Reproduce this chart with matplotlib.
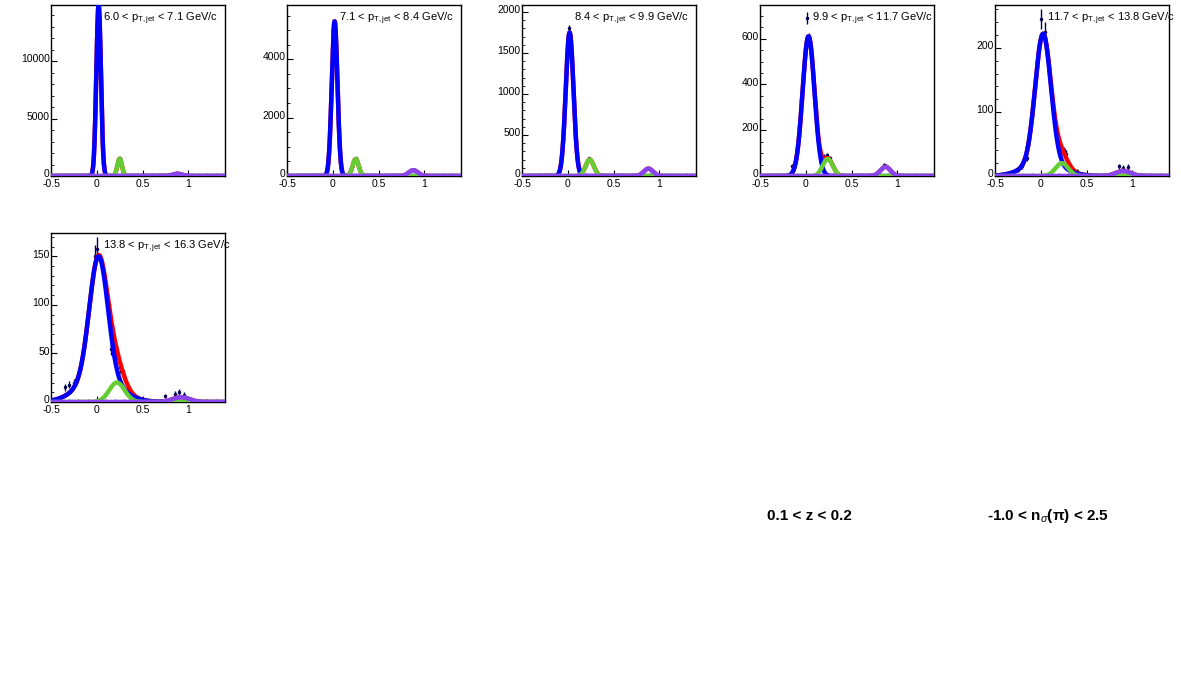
import numpy as np
import matplotlib
matplotlib.use("Agg")
import matplotlib.pyplot as plt
import matplotlib.transforms as mtransforms

plt.rcParams['font.family'] = ['Liberation Sans', 'DejaVu Sans']
plt.rcParams['mathtext.fontset'] = 'custom'
plt.rcParams['mathtext.rm'] = 'Liberation Sans'
plt.rcParams['mathtext.it'] = 'Liberation Sans:italic'

# pT,jet bins
pt_labels = ["6.0 < $\\mathrm{p_{T,jet}}$ < 7.1 GeV/c",
             "7.1 < $\\mathrm{p_{T,jet}}$ < 8.4 GeV/c",
             "8.4 < $\\mathrm{p_{T,jet}}$ < 9.9 GeV/c",
             "9.9 < $\\mathrm{p_{T,jet}}$ < 11.7 GeV/c",
             "11.7 < $\\mathrm{p_{T,jet}}$ < 13.8 GeV/c",
             "13.8 < $\\mathrm{p_{T,jet}}$ < 16.3 GeV/c"]
y_max = [14870, 5860, 2085, 747, 267, 174]
y_ticks = [[0, 5000, 10000], [0, 2000, 4000], [0, 500, 1000, 1500, 2000],
           [0, 200, 400, 600], [0, 100, 200], [0, 50, 100, 150]]

# fit parameters: (amplitude, mean, sigma)
pion = [(14900, 0.02, 0.025), (5300, 0.02, 0.031), (1750, 0.02, 0.042),
        (610, 0.03, 0.065), (200, 0.025, 0.085), (125, 0.02, 0.10)]
pion_tail = [(0, 0.02, 0.2), (0, 0.02, 0.2), (0, 0.02, 0.2),
             (0, 0.03, 0.2), (22, 0.025, 0.2), (25, 0.02, 0.22)]
kaon = [(1500, 0.25, 0.025), (580, 0.25, 0.033), (200, 0.24, 0.045),
        (75, 0.24, 0.055), (20, 0.23, 0.07), (20, 0.22, 0.085)]
proton = [(200, 0.88, 0.05), (200, 0.88, 0.05), (90, 0.88, 0.05),
          (40, 0.87, 0.055), (8, 0.9, 0.08), (5, 0.92, 0.09)]

# visible data points: x, y, yerr
data_x = [[0.01, 0.25, 0.88],
          [0.01, 0.25, 0.88],
          [0.01, 0.23, 0.88],
          [-0.15, -0.1, -0.05, 0.01, 0.03, 0.2, 0.23, 0.26, 0.85, 0.88],
          [-0.25, -0.2, -0.15, 0.0, 0.05, 0.22, 0.25, 0.28, 0.4, 0.85, 0.9, 0.95],
          [-0.35, -0.3, -0.25, -0.02, 0.0, 0.15, 0.2, 0.25, 0.3, 0.75, 0.85, 0.9, 0.95]]
data_y = [[14800, 1550, 220],
          [5300, 600, 210],
          [1800, 220, 95],
          [45, 110, 330, 690, 600, 85, 90, 80, 48, 45],
          [10, 15, 28, 245, 225, 45, 40, 35, 8, 15, 13, 14],
          [15, 18, 20, 150, 158, 55, 45, 36, 28, 6, 8, 10, 7]]
data_err = [[120, 40, 15],
            [70, 25, 15],
            [40, 15, 10],
            [7, 10, 18, 25, 24, 9, 9, 9, 7, 7],
            [3, 4, 5, 15, 15, 6, 6, 6, 3, 4, 4, 4],
            [4, 4, 4, 12, 12, 7, 6, 6, 5, 2, 3, 3, 3]]

lefts = [51, 287, 522, 760, 995, 51]
tops = [5, 5, 5, 5, 5, 233]
heights = [171, 171, 171, 171, 171, 169]
W, H = 1181, 677


def gauss(x, p):
    a, m, s = p
    return a * np.exp(-0.5 * ((x - m) / s) ** 2)


fig = plt.figure(figsize=(W / 100, H / 100), dpi=100)
x = np.linspace(-0.5, 1.4, 800)
lift = mtransforms.ScaledTranslation(0, 2.0 / 72, fig.dpi_scale_trans)

for i in range(6):
    ax = fig.add_axes([lefts[i] / W, 1 - (tops[i] + heights[i]) / H, 174 / W, heights[i] / H])
    blue = gauss(x, pion[i]) + gauss(x, pion_tail[i])
    green = gauss(x, kaon[i])
    purple = gauss(x, proton[i])
    red = blue + green + purple
    ax.errorbar(data_x[i], data_y[i], yerr=data_err[i], fmt='.', ms=3,
                color='#000055', elinewidth=1, capsize=0, zorder=1)
    ax.plot(x, red, color='#ff0000', lw=3.2, zorder=2)
    ax.plot(x, blue, color='#0000ff', lw=3.2, zorder=3)
    ax.plot(x, green, color='#66cc33', lw=3.2, zorder=4)
    ax.plot(x, purple, color='#8844ee', lw=3.2, zorder=5)
    ax.set_xlim(-0.5, 1.4)
    ax.set_ylim(0, y_max[i])
    ax.set_xticks([-0.5, 0, 0.5, 1])
    ax.set_xticklabels(['-0.5', '0', '0.5', '1'])
    ax.set_yticks(y_ticks[i])
    ax.minorticks_on()
    ax.tick_params(direction='in', length=4, width=0.8, labelsize=7.5, pad=1)
    ax.tick_params(axis='x', pad=2.5)
    ax.tick_params(which='minor', direction='in', length=2, width=0.6)
    for lbl in ax.get_yticklabels():
        lbl.set_transform(lbl.get_transform() + lift)
    for sp in ax.spines.values():
        sp.set_linewidth(1.0)
    ax.text(0.30, 0.92, pt_labels[i], transform=ax.transAxes, fontsize=8,
            va='center', ha='left', zorder=6)

fig.text(767 / W, 1 - 516 / H, "0.1 < z < 0.2", fontsize=11, fontweight='bold',
         va='center', ha='left')
fig.text(987 / W, 1 - 516 / H, "-1.0 < n$_{\\sigma}$(π) < 2.5", fontsize=11,
         fontweight='bold', va='center', ha='left')

fig.savefig("out.png", dpi=100)
